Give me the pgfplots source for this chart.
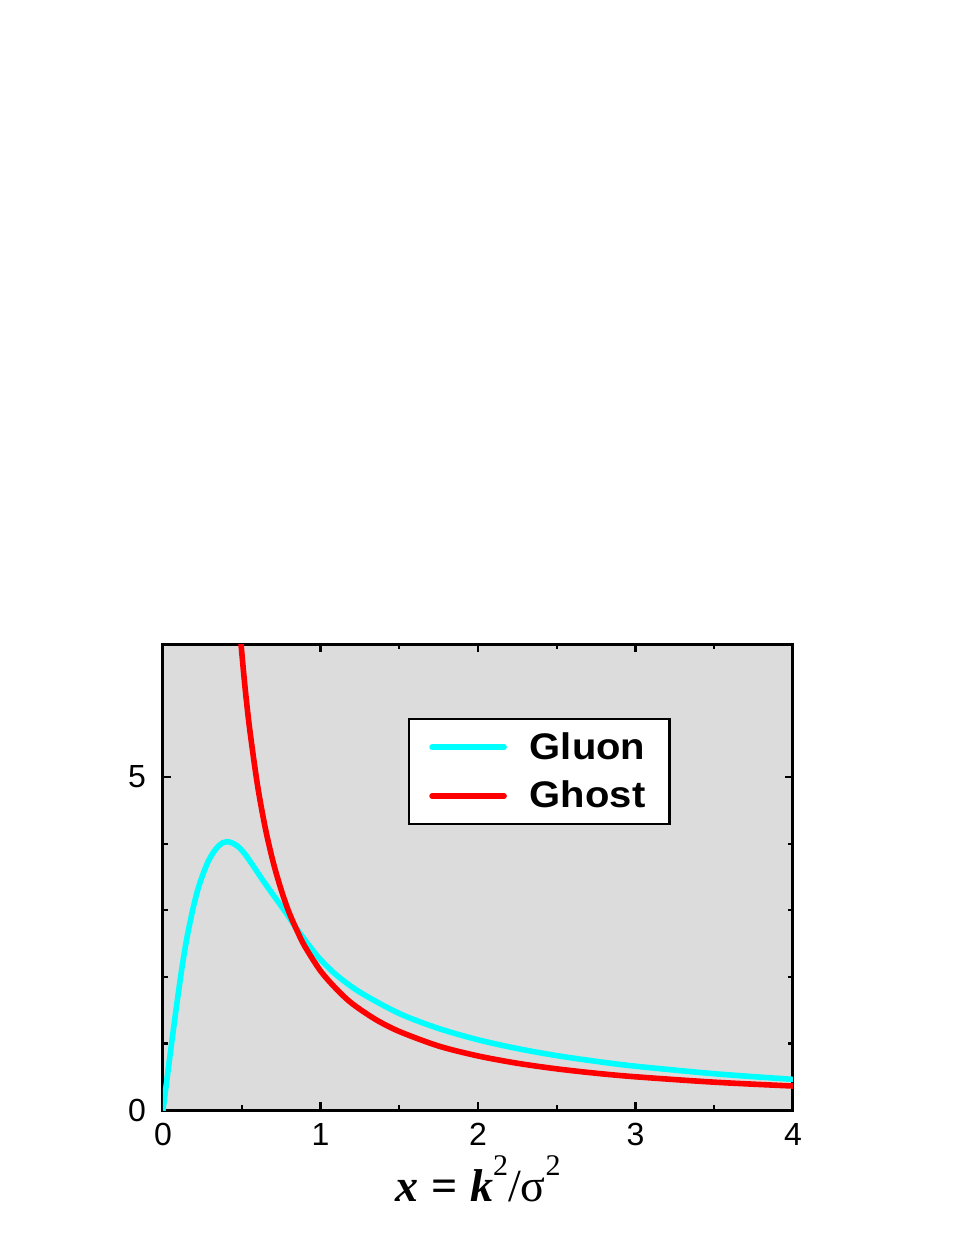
\documentclass[border=0pt]{standalone}
\usepackage{fontspec}
\setmainfont{Liberation Sans}
\newfontfamily\tnr{Liberation Serif}
\newfontfamily\legfont[FakeStretch=1.08]{Liberation Sans}
\usepackage{pgfplots}
\pgfplotsset{compat=1.18}
\definecolor{bggray}{RGB}{220,220,220}
\definecolor{gcyan}{RGB}{0,255,255}
\definecolor{gred}{RGB}{255,0,0}

\pgfplotstableread{
x y
0.000 0.00
0.030 0.55
0.060 1.10
0.090 1.63
0.120 2.13
0.150 2.56
0.188 3.00
0.220 3.30
0.252 3.53
0.288 3.74
0.320 3.87
0.350 3.96
0.380 4.015
0.404 4.03
0.430 4.02
0.470 3.97
0.510 3.875
0.552 3.74
0.620 3.50
0.685 3.28
0.785 2.95
0.849 2.72
0.944 2.42
1.000 2.26
1.100 2.03
1.250 1.77
1.500 1.45
1.750 1.225
2.000 1.055
2.250 0.923
2.500 0.817
2.750 0.731
3.000 0.658
3.500 0.545
4.000 0.460
}\gluon

\pgfplotstableread{
x y
0.495 7.01
0.520 6.37
0.550 5.73
0.600 4.88
0.650 4.23
0.700 3.72
0.750 3.31
0.800 2.97
0.850 2.70
0.900 2.46
1.000 2.09
1.100 1.82
1.200 1.60
1.350 1.36
1.500 1.18
1.750 0.961
2.000 0.812
2.250 0.702
2.500 0.618
2.750 0.552
3.000 0.499
3.500 0.418
4.000 0.360
}\ghost

\begin{document}
\begin{tikzpicture}
\path[use as bounding box] (-81.5pt,-64.5pt) rectangle (397pt,555pt);
\begin{axis}[
    at={(0,0)}, anchor=south west,
    scale only axis,
    width=315pt, height=233pt,
    xmin=0, xmax=4, ymin=0, ymax=7,
    xtick={0,1,2,3,4}, ytick={0,5},
    minor x tick num=1, minor y tick num=4,
    tick align=inside,
    major tick length=3.8pt, minor tick length=2.3pt,
    every tick/.style={black, line width=1.1pt},
    axis line style={black, line width=1.5pt},
    axis background/.style={fill=bggray},
    tick label style={font=\fontsize{16}{19}\selectfont},
    /pgf/number format/assume math mode=true,
    xticklabel style={yshift=-3pt},
    yticklabel style={xshift=-5pt},
    xlabel={{\tnr\bfseries\itshape x} {\tnr\bfseries =} {\tnr\bfseries\itshape k}\raisebox{13.3pt}{\tnr\fontsize{15}{15}\selectfont 2}{\tnr /σ}\raisebox{13.3pt}{\tnr\fontsize{15}{15}\selectfont 2}},
    xlabel style={at={(axis description cs:0.5,0)}, anchor=base, yshift=-45.8pt,
        font=\fontsize{23}{26}\selectfont},
    legend style={at={(0.389,0.841)}, anchor=north west,
        draw=black, line width=1.2pt, fill=white,
        font=\legfont\fontsize{18.5}{20}\selectfont\bfseries,
        inner xsep=10pt, inner ysep=4.5pt, row sep=5.5pt, column sep=9.5pt,
        nodes={inner sep=2pt}},
    legend cell align=left,
    legend image code/.code={\draw[#1, line width=2.8pt, line cap=round] (0pt,0pt) -- (36pt,0pt);},
]
\addplot[gcyan, line width=2.8pt, smooth, line cap=round] table[x=x, y=y] {\gluon};
\addlegendentry{Gluon}
\addplot[gred, line width=2.8pt, smooth, line cap=round] table[x=x, y=y] {\ghost};
\addlegendentry{Ghost}
\end{axis}
\end{tikzpicture}
\end{document}
